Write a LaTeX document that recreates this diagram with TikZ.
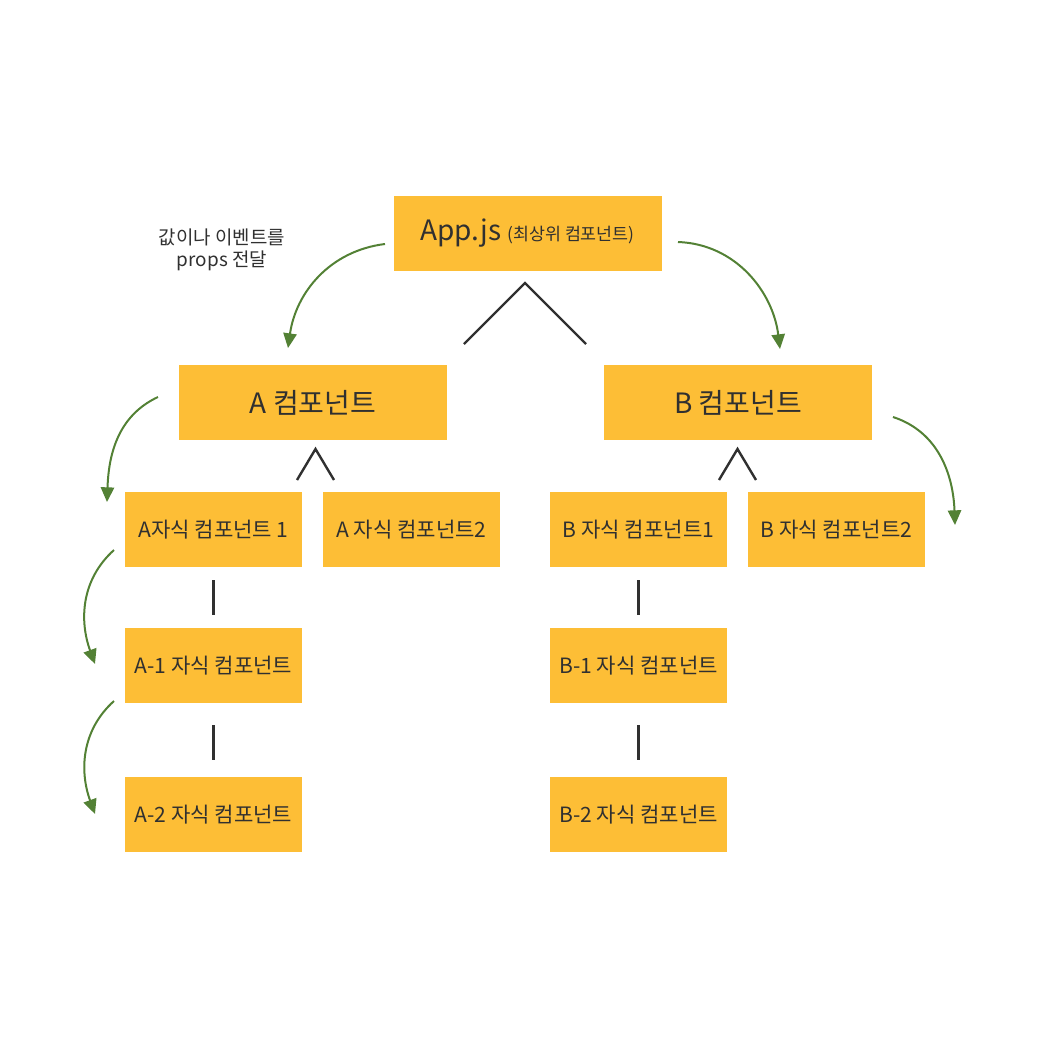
\documentclass[tikz,border=0pt]{standalone}
\usepackage{fontspec}
\setmainfont{Noto Sans CJK KR}
\usetikzlibrary{arrows.meta,calc}
\definecolor{boxy}{HTML}{FDBE36}
\definecolor{arrg}{HTML}{538135}
\definecolor{txt}{HTML}{303030}
\begin{document}
\begin{tikzpicture}[x=0.75pt,y=-0.75pt,
  bigbox/.style={fill=boxy,minimum width=268*0.75pt,minimum height=75*0.75pt,inner sep=0pt,text=txt,font=\fontsize{21}{24}\selectfont},
  smallbox/.style={fill=boxy,minimum width=177*0.75pt,minimum height=75*0.75pt,inner sep=0pt,text=txt,font=\fontsize{15.8}{18}\selectfont},
  tree/.style={draw=txt,line width=1.8pt},
  pass/.style={draw=arrg,line width=1.5pt,-{Triangle[length=11pt,width=10pt]}}]
\useasboundingbox (0,0) rectangle (1050,1050);
\node[bigbox] (app) at (527.5,233.5) {App.js \fontsize{13}{15}\selectfont(최상위 컴포넌트)};
\node[bigbox] (a) at (313,402.5) {A 컴포넌트};
\node[bigbox] (b) at (738,402.5) {B 컴포넌트};
\node[smallbox] (a1) at (213.5,529.5) {A자식 컴포넌트 1};
\node[smallbox] (a2) at (411.5,529.5) {A 자식 컴포넌트2};
\node[smallbox] (b1) at (638.5,529.5) {B 자식 컴포넌트1};
\node[smallbox] (b2) at (836.5,529.5) {B 자식 컴포넌트2};
\node[smallbox] (aa1) at (213.5,665.5) {A-1 자식 컴포넌트};
\node[smallbox] (aa2) at (213.5,814.5) {A-2 자식 컴포넌트};
\node[smallbox] (bb1) at (638.5,665.5) {B-1 자식 컴포넌트};
\node[smallbox] (bb2) at (638.5,814.5) {B-2 자식 컴포넌트};
\node[text=txt,align=center,font=\fontsize{14.2}{17}\selectfont] (note) at (222,250) {값이나 이벤트를\\props 전달};
% tree lines
\coordinate (appv) at (525,283);
\coordinate (appl) at (464,344);
\coordinate (appr) at (586,344);
\draw[tree,line join=miter] (appl) -- (appv) -- (appr);
\coordinate (av) at (315.5,449);
\draw[tree] (297,480) -- (av) -- (334,480);
\coordinate (bv) at (737.5,449);
\draw[tree] (719,480) -- (bv) -- (756,480);
\draw[tree] ($(a1.south)+(0,13)$) -- ($(aa1.north)+(0,-13)$);
\draw[tree] ($(aa1.south)+(0,22)$) -- ($(aa2.north)+(0,-17)$);
\draw[tree] ($(b1.south)+(0,13)$) -- ($(bb1.north)+(0,-13)$);
\draw[tree] ($(bb1.south)+(0,22)$) -- ($(bb2.north)+(0,-17)$);
% green arrows
\coordinate (s1) at (385,244); \coordinate (e1) at (288,348);
\draw[pass] (s1) to[out=187,in=82] (e1);
\coordinate (s2) at (678,242); \coordinate (e2) at (780,349);
\draw[pass] (s2) to[out=-2,in=97] (e2);
\coordinate (s3) at (158,397); \coordinate (e3) at (107,502);
\draw[pass] (s3) to[out=205,in=88] (e3);
\coordinate (s4) at (893,417); \coordinate (e4) at (955,525);
\draw[pass] (s4) to[out=-18,in=92] (e4);
\coordinate (s5) at (114,550); \coordinate (e5) at (95,664);
\draw[pass] (s5) to[out=222,in=110] (e5);
\coordinate (s6) at (114,701); \coordinate (e6) at (95,814);
\draw[pass] (s6) to[out=222,in=110] (e6);
\end{tikzpicture}
\end{document}
